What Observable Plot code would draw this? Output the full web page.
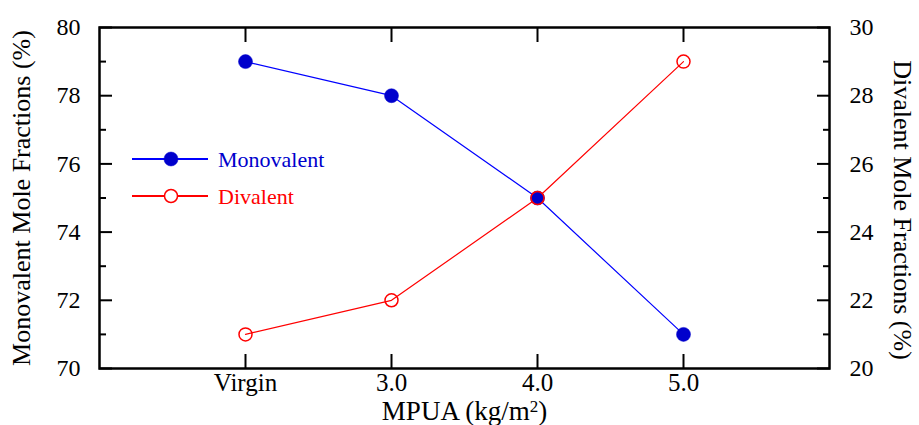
<!DOCTYPE html>
<html><head><meta charset="utf-8">
<script src="https://cdn.jsdelivr.net/npm/d3@7"></script>
<script src="https://cdn.jsdelivr.net/npm/@observablehq/plot@0.6"></script>
<style>
body{margin:0;background:#fff}
#wrap{position:relative;width:919px;height:425px}
#wrap svg.legend{position:absolute;left:0;top:0}
</style>
</head><body><div id="wrap"></div>
<script>
// ---- data ----
const categories = ["Virgin", "3.0", "4.0", "5.0"];
const monovalent = [79, 78, 75, 71];   // left axis (%)
const divalent = [21, 22, 25, 29];     // right axis (%)
const leftDomain = [70, 80];
const rightDomain = [20, 30];
const leftMajorTicks = [70, 72, 74, 76, 78, 80];
const leftMinorTicks = [71, 73, 75, 77, 79];
const rightMajorTicks = [20, 22, 24, 26, 28, 30];
const rightMinorTicks = [21, 23, 25, 27, 29];
const seriesNames = ["Monovalent", "Divalent"];
const xTitleBase = "MPUA (kg/m";
const xTitleSup = "2";
const xTitleEnd = ")";
const leftTitle = "Monovalent Mole Fractions (%)";
const rightTitle = "Divalent Mole Fractions (%)";

const blue = "#0000ff", blueFill = "#0000cc", red = "#ff0000";
const font = "'Liberation Serif', 'Times New Roman', serif";

const toLeft = r => leftDomain[0] + (r - rightDomain[0]) * (leftDomain[1] - leftDomain[0]) / (rightDomain[1] - rightDomain[0]);
const rows = categories.map((c, i) => ({pos: i + 1, cat: c, mono: monovalent[i], div: toLeft(divalent[i])}));
const xPos = categories.map((c, i) => i + 1);

const chart = Plot.plot({
  width: 919, height: 425,
  marginLeft: 99, marginRight: 90, marginTop: 27, marginBottom: 57,
  x: {domain: [0, categories.length + 1], label: null},
  y: {domain: leftDomain, label: null},
  style: {fontFamily: font, fontSize: "24px", color: "black", background: "white", overflow: "visible"},
  marks: [
    Plot.line(rows, {x: "pos", y: "mono", stroke: blue, strokeWidth: 1.2}),
    Plot.line(rows, {x: "pos", y: "div", stroke: red, strokeWidth: 1.2}),
    Plot.dot(rows, {x: "pos", y: "mono", r: 7, fill: blueFill, stroke: blueFill, strokeWidth: 0.5}),
    Plot.dot(rows, {x: "pos", y: "div", r: 6.5, fill: "none", stroke: red, strokeWidth: 1.5}),
    // left axis ticks (inward)
    Plot.axisY(leftMajorTicks, {anchor: "left", tickSize: 13, dx: 13, strokeWidth: 2, tickFormat: () => "", label: null}),
    Plot.axisY(leftMinorTicks, {anchor: "left", tickSize: 7, dx: 7, strokeWidth: 2, tickFormat: () => "", label: null}),
    Plot.axisY(leftMajorTicks, {anchor: "left", tickSize: 0, tickPadding: 19, fontSize: 24, label: null}),
    // right axis ticks (inward)
    Plot.axisY(rightMajorTicks.map(toLeft), {anchor: "right", tickSize: 13, dx: -13, strokeWidth: 2, tickFormat: () => "", label: null}),
    Plot.axisY(rightMinorTicks.map(toLeft), {anchor: "right", tickSize: 7, dx: -7, strokeWidth: 2, tickFormat: () => "", label: null}),
    Plot.axisY(rightMajorTicks.map(toLeft), {anchor: "right", tickSize: 0, tickPadding: 20, fontSize: 24,
      tickFormat: (d, i) => String(rightMajorTicks[i]), label: null}),
    // x axis ticks bottom & top (inward)
    Plot.axisX(xPos, {anchor: "bottom", tickSize: 14, dy: -14, strokeWidth: 2, tickFormat: () => "", label: null}),
    Plot.axisX(xPos, {anchor: "top", tickSize: 14, dy: 14, strokeWidth: 2, tickFormat: () => "", label: null}),
    Plot.axisX(xPos, {anchor: "bottom", tickSize: 0, tickPadding: 5, fontSize: 25,
      tickFormat: d => categories[d - 1], label: null}),
    // titles
    Plot.text([leftTitle], {text: d => d, frameAnchor: "left", dx: -78, rotate: -90, textAnchor: "middle", lineAnchor: "middle", fontSize: 26}),
    Plot.text([rightTitle], {text: d => d, frameAnchor: "right", dx: 73, dy: 12, rotate: 90, textAnchor: "middle", lineAnchor: "middle", fontSize: 26}),
    Plot.text([xTitleBase + xTitleSup + xTitleEnd], {text: d => d, frameAnchor: "bottom", dy: 43, textAnchor: "middle",
      lineAnchor: "middle", fontSize: 27}),
    Plot.frame({stroke: "black", strokeWidth: 2.5})
  ]
});
const wrap = document.getElementById("wrap");
wrap.appendChild(chart);

// superscript in x title
d3.select(chart).selectAll("text").filter(function() {
  return this.textContent === xTitleBase + xTitleSup + xTitleEnd;
}).each(function() {
  const t = d3.select(this);
  t.text(null);
  t.append("tspan").text(xTitleBase);
  t.append("tspan").attr("dy", -8).attr("font-size", 17).text(xTitleSup);
  t.append("tspan").attr("dy", 8).text(xTitleEnd);
});

// legend overlay
const legend = d3.select(wrap).append("svg").attr("class", "legend")
  .attr("width", 919).attr("height", 425)
  .style("font-family", font);
const legendItems = [
  {name: seriesNames[0], color: blue, fill: blueFill, open: false, y: 159},
  {name: seriesNames[1], color: red, fill: "none", open: true, y: 196}
];
const g = legend.selectAll("g").data(legendItems).join("g")
  .attr("transform", d => `translate(0,${d.y})`);
g.append("line").attr("x1", 132).attr("x2", 208).attr("y1", 0).attr("y2", 0)
  .attr("stroke", d => d.color).attr("stroke-width", 2);
g.append("circle").attr("cx", 171).attr("cy", 0).attr("r", d => d.open ? 6.5 : 7)
  .attr("fill", d => d.open ? "white" : d.fill)
  .attr("stroke", d => d.open ? d.color : d.fill).attr("stroke-width", d => d.open ? 1.5 : 0.5);
g.append("text").attr("x", 218).attr("y", 7.7).attr("fill", d => d.open ? d.color : blueFill)
  .attr("font-size", 22).text(d => d.name);
</script>
</body></html>
